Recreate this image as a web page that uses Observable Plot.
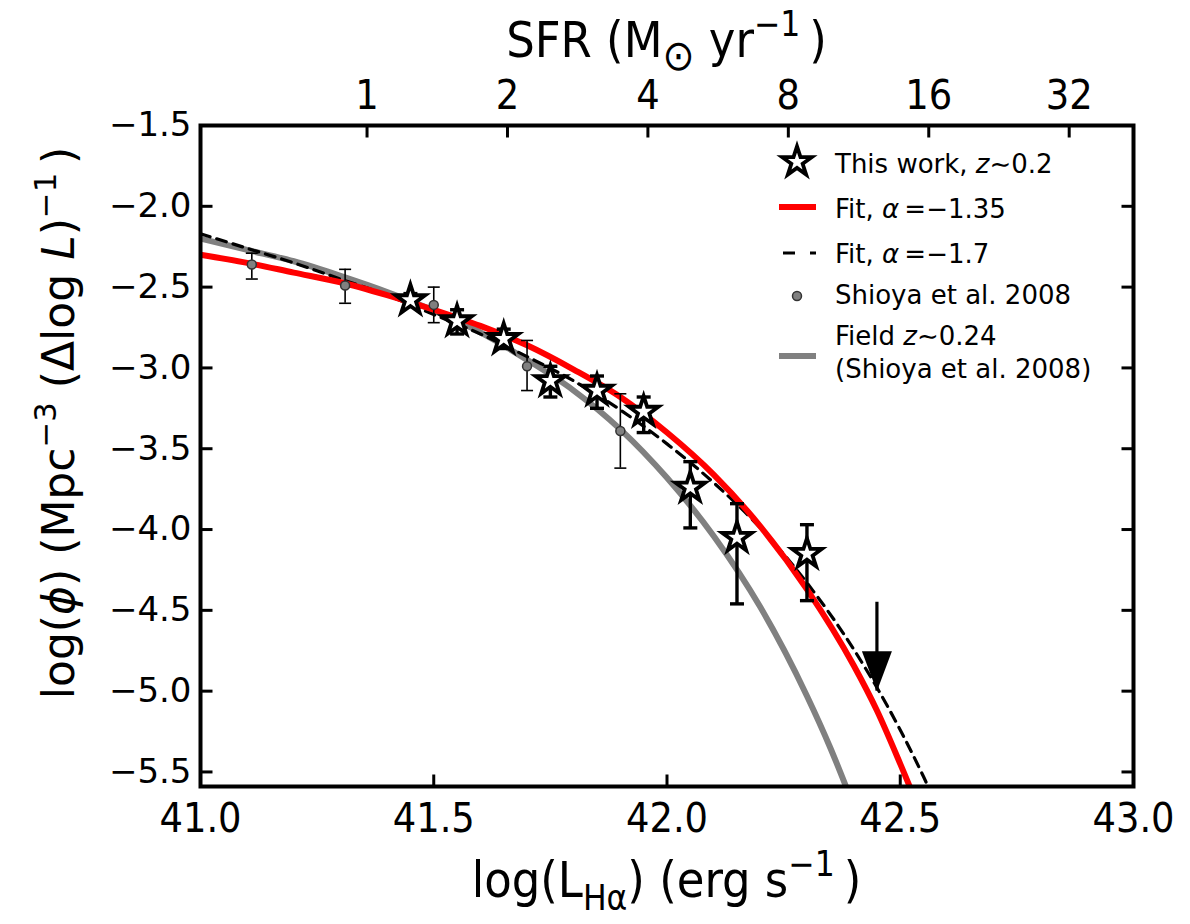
<!DOCTYPE html>
<html><head><meta charset="utf-8">
<script src="https://cdn.jsdelivr.net/npm/d3@7"></script>
<script src="https://cdn.jsdelivr.net/npm/@observablehq/plot@0.6"></script>
<style>html,body{margin:0;padding:0;background:#fff} #chart{position:absolute;left:0;top:0}</style>
</head><body><div id="chart"></div>
<script>
// ---------- data ----------
// This work, z~0.2 (open stars) with asymmetric error bars
const thisWorkL   = [41.45, 41.55, 41.65, 41.75, 41.85, 41.95, 42.05, 42.15, 42.30];
const thisWorkPhi = [-2.58, -2.71, -2.82, -3.08, -3.14, -3.27, -3.74, -4.05, -4.15];
const thisWorkHi  = [-2.54, -2.64, -2.76, -2.99, -3.05, -3.18, -3.58, -3.84, -3.97];
const thisWorkLo  = [-2.62, -2.79, -2.88, -3.18, -3.25, -3.40, -3.99, -4.46, -4.44];
// Upper limit (arrow)
const limitL   = [42.45];
const limitTop = [-4.45];
const limitTip = [-5.00];
// Shioya et al. 2008 points
const shioyaL   = [41.11, 41.31, 41.50, 41.70, 41.90];
const shioyaPhi = [-2.36, -2.49, -2.61, -2.99, -3.39];
const shioyaHi  = [-2.29, -2.39, -2.50, -2.83, -3.16];
const shioyaLo  = [-2.45, -2.60, -2.72, -3.14, -3.62];
// Fit, alpha = -1.35 (red)
const fitRedL   = [41.0, 41.1, 41.2, 41.3, 41.4, 41.5, 41.6, 41.7, 41.8, 41.9, 42.0, 42.1, 42.2, 42.3, 42.4, 42.45, 42.5, 42.55];
const fitRedPhi = [-2.30, -2.35, -2.41, -2.47, -2.55, -2.64, -2.74, -2.86, -3.01, -3.18, -3.40, -3.66, -3.98, -4.37, -4.84, -5.12, -5.45, -5.80];
// Fit, alpha = -1.7 (black dashed)
const fitDashL   = [41.0, 41.1, 41.2, 41.3, 41.4, 41.5, 41.6, 41.7, 41.8, 41.9, 42.0, 42.1, 42.2, 42.3, 42.4, 42.5, 42.55, 42.6];
const fitDashPhi = [-2.17, -2.26, -2.35, -2.45, -2.55, -2.67, -2.79, -2.93, -3.08, -3.26, -3.47, -3.71, -3.99, -4.33, -4.74, -5.24, -5.53, -5.85];
// Field z~0.24 (Shioya et al. 2008), grey
const fieldL   = [41.0, 41.1, 41.2, 41.3, 41.4, 41.5, 41.6, 41.7, 41.8, 41.9, 42.0, 42.1, 42.2, 42.3, 42.35, 42.4];
const fieldPhi = [-2.20, -2.27, -2.34, -2.43, -2.53, -2.645, -2.78, -2.95, -3.14, -3.38, -3.68, -4.04, -4.48, -5.03, -5.35, -5.71];
// Axis ticks
const xTicks = [41.0, 41.5, 42.0, 42.5, 43.0];
const yTicks = [-5.5, -5.0, -4.5, -4.0, -3.5, -3.0, -2.5, -2.0, -1.5];
const sfrTickLabels = [1, 2, 4, 8, 16, 32];
const sfrLogOffset = 41.357; // log L(Halpha) at SFR = 1 Msun/yr (top axis conversion)
const xDomain = [41, 43];
const yDomain = [-5.59, -1.5];

// ---------- tables ----------
const zip = (xs, ys) => xs.map((x, i) => ({x, y: ys[i]}));
const thisWork = thisWorkL.map((x, i) => ({x, y: thisWorkPhi[i], hi: thisWorkHi[i], lo: thisWorkLo[i]}));
const shioya = shioyaL.map((x, i) => ({x, y: shioyaPhi[i], hi: shioyaHi[i], lo: shioyaLo[i]}));
const limits = limitL.map((x, i) => ({x, top: limitTop[i], tip: limitTip[i]}));
const fitRed = zip(fitRedL, fitRedPhi);
const fitDash = zip(fitDashL, fitDashPhi);
const field = zip(fieldL, fieldPhi);
const sfrTickPos = sfrTickLabels.map(s => sfrLogOffset + Math.log10(s));

const minus = s => String(s).replace(/-/g, "\u2212");
const W = 1190, H = 924, mL = 200, mR = 57, mT = 125, mB = 138;
const sans = "DejaVu Sans, Noto Sans, sans-serif";
const cond = "DejaVu Sans Condensed, DejaVu Sans, sans-serif";

const seg = (x1, y1, x2, y2) => ({draw(ctx) { ctx.moveTo(x1, y1); ctx.lineTo(x2, y2); }});
const capSymbol = (hw) => seg(-hw, 0, hw, 0);
const TL = 12;
const tickUp = seg(0, 0, 0, -TL), tickDown = seg(0, 0, 0, TL), tickRight = seg(0, 0, TL, 0), tickLeft = seg(0, 0, -TL, 0);
const headSymbol = {draw(ctx) { ctx.moveTo(-15, -40); ctx.lineTo(15, -40); ctx.lineTo(0, 0); ctx.closePath(); }};

const plot = Plot.plot({
  width: W, height: H,
  marginLeft: mL, marginRight: mR, marginTop: mT, marginBottom: mB,
  x: {domain: xDomain, axis: null},
  y: {domain: yDomain, axis: null},
  style: {fontFamily: sans, background: "white", color: "black"},
  marks: [
    Plot.line(field, {x: "x", y: "y", stroke: "#808080", strokeWidth: 6, curve: "monotone-x", clip: true}),
    Plot.line(fitDash, {x: "x", y: "y", stroke: "black", strokeWidth: 3.2, strokeDasharray: "10,7", curve: "monotone-x", clip: true}),
    Plot.line(fitRed, {x: "x", y: "y", stroke: "#ff0000", strokeWidth: 6, curve: "monotone-x", clip: true}),
    // Shioya error bars and points
    Plot.ruleX(shioya, {x: "x", y1: "lo", y2: "hi", stroke: "black", strokeWidth: 1.6}),
    Plot.dot(shioya, {x: "x", y: "hi", symbol: capSymbol(6), stroke: "black", strokeWidth: 1.6}),
    Plot.dot(shioya, {x: "x", y: "lo", symbol: capSymbol(6), stroke: "black", strokeWidth: 1.6}),
    Plot.dot(shioya, {x: "x", y: "y", r: 4.5, fill: "#808080", stroke: "#333", strokeWidth: 1.5}),
    // This work error bars and stars
    Plot.ruleX(thisWork, {x: "x", y1: "lo", y2: "hi", stroke: "black", strokeWidth: 3.4}),
    Plot.dot(thisWork, {x: "x", y: "hi", symbol: capSymbol(7), stroke: "black", strokeWidth: 3.4}),
    Plot.dot(thisWork, {x: "x", y: "lo", symbol: capSymbol(7), stroke: "black", strokeWidth: 3.4}),
    Plot.dot(thisWork, {x: "x", y: "y", symbol: "star", r: 9.3, fill: "white", stroke: "black", strokeWidth: 3.8, strokeLinejoin: "miter"}),
    // upper limit arrow
    Plot.ruleX(limits, {x: "x", y1: "top", y2: "tip", stroke: "black", strokeWidth: 3.2}),
    Plot.dot(limits, {x: "x", y: "tip", symbol: headSymbol, fill: "black", stroke: "none"}),
    // ticks (inward) and tick labels
    Plot.dot(xTicks, {x: d => d, y: () => yDomain[0], symbol: tickUp, stroke: "black", strokeWidth: 3}),
    Plot.dot(sfrTickPos, {x: d => d, y: () => yDomain[1], symbol: tickDown, stroke: "black", strokeWidth: 3}),
    Plot.dot(yTicks, {x: () => xDomain[0], y: d => d, symbol: tickRight, stroke: "black", strokeWidth: 3}),
    Plot.dot(yTicks, {x: () => xDomain[1], y: d => d, symbol: tickLeft, stroke: "black", strokeWidth: 3}),
    Plot.text(xTicks, {x: d => d, y: () => yDomain[0], text: d => d.toFixed(1), dy: 32, fontSize: 41, fontFamily: cond, fill: "black"}),
    Plot.text(sfrTickPos, {x: d => d, y: () => yDomain[1], text: (d, i) => String(sfrTickLabels[i]), dy: -30, fontSize: 41, fontFamily: cond, fill: "black"}),
    Plot.text(yTicks, {x: () => xDomain[0], y: d => d, text: d => minus(d.toFixed(1)), textAnchor: "end", dx: -9, fontSize: 34, fontFamily: sans, fill: "black"}),
    Plot.frame({stroke: "black", strokeWidth: 4})
  ]
});
document.getElementById("chart").appendChild(plot);

// ---------- rich text labels & legend ----------
const svg = d3.select(plot);
function rich(parent, x, y, parts, {size, family = sans, anchor = "start", rotate = 0}) {
  const t = parent.append("text").attr("x", x).attr("y", y)
    .attr("font-size", size).attr("font-family", family).attr("text-anchor", anchor).attr("fill", "black");
  if (rotate) t.attr("transform", `rotate(${rotate},${x},${y})`);
  let shift = 0;
  for (const p of parts) {
    const s = p.sub ? 0.25 : p.sup ? -0.42 : 0;
    const ts = t.append("tspan").text(p.t);
    const dy = (s - shift) * size;
    if (dy) ts.attr("dy", dy);
    shift = s;
    if (p.sub || p.sup) ts.attr("font-size", size * (p.scale || 0.7));
    if (p.it) ts.attr("font-style", "italic");
  }
  return t;
}
const cx = (mL + (W - mR)) / 2;
const g = svg.append("g");
rich(g, cx, 57, [{t: "SFR (M"}, {t: "\u2299", sub: true, scale: 0.85}, {t: " yr"}, {t: "\u22121", sup: true}, {t: "\u2009)"}], {size: 50, family: cond, anchor: "middle"});
rich(g, cx, 897, [{t: "log(L"}, {t: "H\u03b1", sub: true}, {t: ") (erg s"}, {t: "\u22121", sup: true}, {t: "\u2009)"}], {size: 50, family: cond, anchor: "middle"});
rich(g, 74, 423, [{t: "log("}, {t: "\u03d5", it: true}, {t: ") (Mpc"}, {t: "\u22123", sup: true}, {t: " (\u0394log "}, {t: "L", it: true}, {t: ")"}, {t: "\u22121", sup: true}, {t: "\u2009)"}], {size: 44, family: sans, anchor: "middle", rotate: -90});

// legend
const lg = svg.append("g");
const lx0 = 779, lx1 = 816, tx = 835, fs = 26;
lg.append("path").attr("d", d3.symbol(d3.symbolStar, Math.PI * 9.3 * 9.3)()).attr("transform", "translate(797,162)")
  .attr("fill", "white").attr("stroke", "black").attr("stroke-width", 3.8).attr("stroke-linejoin", "miter");
rich(lg, tx, 173, [{t: "This work, "}, {t: "z", it: true}, {t: "\u223c0.2"}], {size: fs});
lg.append("line").attr("x1", lx0).attr("x2", lx1).attr("y1", 207).attr("y2", 207).attr("stroke", "#ff0000").attr("stroke-width", 6);
rich(lg, tx, 218, [{t: "Fit, "}, {t: "\u03b1", it: true}, {t: "\u2009=\u22121.35"}], {size: fs});
lg.append("line").attr("x1", lx0 + 4).attr("x2", lx1).attr("y1", 253).attr("y2", 253).attr("stroke", "black").attr("stroke-width", 3.2).attr("stroke-dasharray", "12,15");
rich(lg, tx, 263, [{t: "Fit, "}, {t: "\u03b1", it: true}, {t: "\u2009=\u22121.7"}], {size: fs});
lg.append("circle").attr("cx", 797).attr("cy", 296).attr("r", 4.5).attr("fill", "#808080").attr("stroke", "#333").attr("stroke-width", 1.5);
rich(lg, tx, 304, [{t: "Shioya et al. 2008"}], {size: fs});
lg.append("line").attr("x1", lx0).attr("x2", lx1).attr("y1", 356).attr("y2", 356).attr("stroke", "#808080").attr("stroke-width", 6);
rich(lg, tx, 345, [{t: "Field "}, {t: "z", it: true}, {t: "\u223c0.24"}], {size: fs});
rich(lg, tx, 378, [{t: "(Shioya et al. 2008)"}], {size: fs});
</script>
</body></html>
